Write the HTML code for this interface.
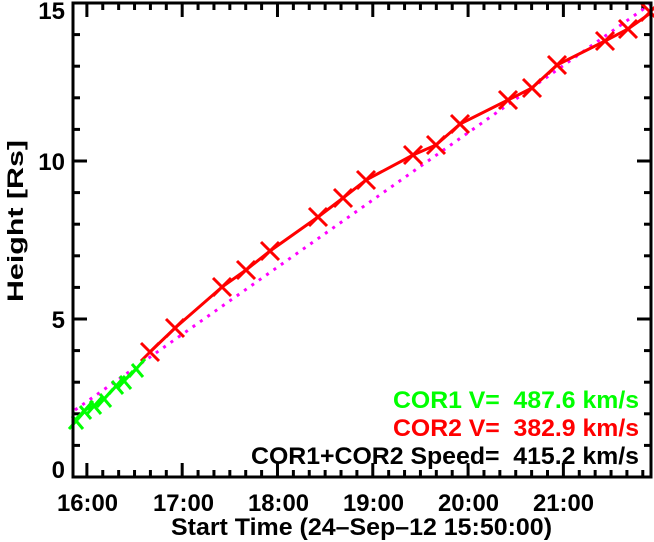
<!DOCTYPE html>
<html><head><meta charset="utf-8"><style>html,body{margin:0;padding:0;background:#fff}svg{display:block}text{white-space:pre}</style></head>
<body>
<svg width="654" height="542" xmlns="http://www.w3.org/2000/svg" font-family="Liberation Sans, sans-serif" font-weight="bold" xml:space="preserve">
<rect width="654" height="542" fill="#fff"/>
<g id="ticks" stroke="#000" stroke-width="3">
</g>
<line x1="75" y1="410" x2="652" y2="3" stroke="#ff00ff" stroke-width="3" stroke-dasharray="3,6"/>
<polyline fill="none" stroke="#ff0000" stroke-width="3" points="150,352 175,328 222,287 246,270 270,251 318,217 343,198 366,180 413,155 436,145 460,124 508,100 532,88 557,65 605,41 628,29 652,12"/>
<g stroke="#ff0000" stroke-width="3" id="rx"></g>
<polyline fill="none" stroke="#00ff00" stroke-width="3" points="75,420 85,410 95,405 105,398 117,385 125,380 137,368"/>
<g stroke="#00ff00" stroke-width="3" id="gx"></g>
<rect x="73" y="3" width="578" height="474" fill="none" stroke="#000" stroke-width="3"/>
<g font-size="24">
<text x="57" y="511" textLength="61" lengthAdjust="spacingAndGlyphs">16:00</text>
<text x="153" y="511" textLength="61" lengthAdjust="spacingAndGlyphs">17:00</text>
<text x="248" y="511" textLength="61" lengthAdjust="spacingAndGlyphs">18:00</text>
<text x="343" y="511" textLength="61" lengthAdjust="spacingAndGlyphs">19:00</text>
<text x="438" y="511" textLength="61" lengthAdjust="spacingAndGlyphs">20:00</text>
<text x="533" y="511" textLength="61" lengthAdjust="spacingAndGlyphs">21:00</text>
<text x="171" y="535" textLength="381" lengthAdjust="spacingAndGlyphs">Start Time (24–Sep–12 15:50:00)</text>
</g>
<g font-size="24" text-anchor="end">
<text x="65" y="478">0</text><text x="65" y="328">5</text><text x="65" y="170">10</text><text x="65" y="19">15</text>
</g>
<text transform="translate(23,302) rotate(-90)" font-size="22" textLength="162" lengthAdjust="spacingAndGlyphs">Height [Rs]</text>
<g font-size="24">
<text x="393" y="408" fill="#00ff00" textLength="246" lengthAdjust="spacingAndGlyphs">COR1 V=  487.6 km/s</text>
<text x="393" y="436" fill="#ff0000" textLength="246" lengthAdjust="spacingAndGlyphs">COR2 V=  382.9 km/s</text>
<text x="251" y="464" fill="#000" textLength="388" lengthAdjust="spacingAndGlyphs">COR1+COR2 Speed=  415.2 km/s</text>
</g>
<script>
var ns="http://www.w3.org/2000/svg";
function L(g,x1,y1,x2,y2){var l=document.createElementNS(ns,"line");l.setAttribute("x1",x1);l.setAttribute("y1",y1);l.setAttribute("x2",x2);l.setAttribute("y2",y2);g.appendChild(l);}
var t=document.getElementById("ticks");
for(var m=10;m<=360;m+=10){var x=71+m*95.3/60;if(x>650)break;var big=(m%60==10);var h=big?14:7;L(t,x,477,x,477-h);L(t,x,3,x,3+h);}
for(var v=1;v<15;v++){var y=477-v*31.6;var h=(v%5==0)?14:7;L(t,73,y,73+h,y);L(t,651,y,651-h,y);}
var r=document.getElementById("rx");
[[150,352],[175,328],[222,287],[246,270],[270,251],[318,217],[343,198],[366,180],[413,155],[436,145],[460,124],[508,100],[532,88],[557,65],[605,41],[628,29],[650,12]].forEach(function(p){L(r,p[0]-9,p[1]-9,p[0]+9,p[1]+9);L(r,p[0]-9,p[1]+9,p[0]+9,p[1]-9);});
var g=document.getElementById("gx");
[[77,420],[85,410],[95,405],[105,398],[117,385],[125,380],[137,368]].forEach(function(p){L(g,p[0]-8,p[1]+9,p[0]+8,p[1]-9);L(g,p[0]-5,p[1]-4,p[0]+6,p[1]+9);});
</script>
</svg>
</body></html>
